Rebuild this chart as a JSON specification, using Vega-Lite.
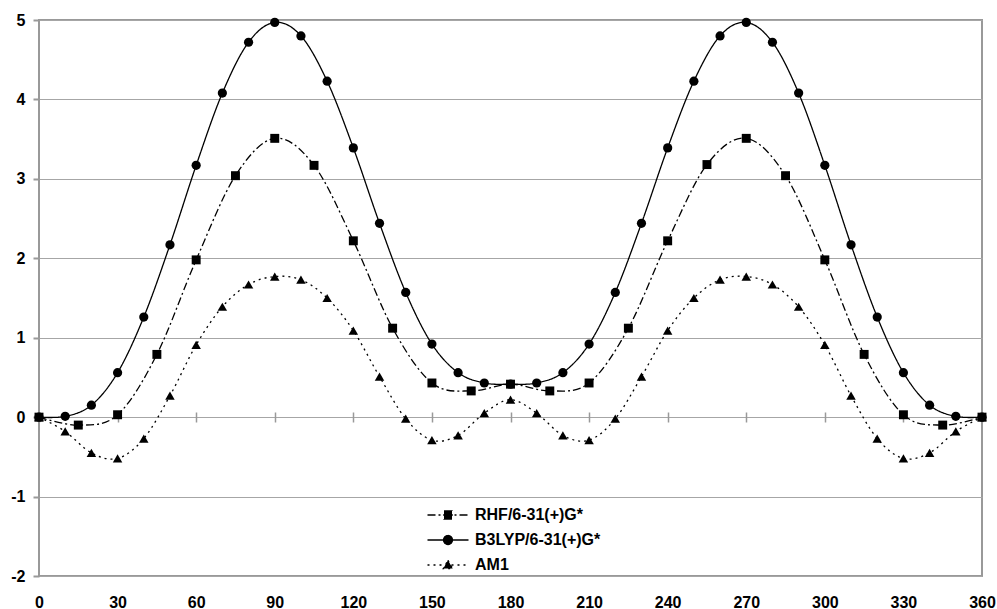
{
  "$schema": "https://vega.github.io/schema/vega-lite/v6.json",
  "width": 943,
  "height": 556,
  "autosize": "none",
  "padding": {"left": 39, "top": 20, "right": 15, "bottom": 33},
  "background": "white",
  "config": {
    "view": {"stroke": "#999999", "strokeWidth": 2},
    "font": "Liberation Sans",
    "axis": {"labelFont": "Liberation Sans", "labelFontWeight": "bold", "labelFontSize": 16, "labelColor": "black"},
    "legend": {
      "title": null, "orient": "none", "legendX": 387.5, "legendY": 485,
      "symbolSize": 100, "labelOffset": 5.5, "rowPadding": 5, "padding": 0, "clipHeight": 20,
      "labelFont": "Liberation Sans", "labelFontWeight": "bold", "labelFontSize": 16, "labelColor": "black",
      "symbolStrokeColor": "black", "symbolFillColor": "black", "symbolStrokeWidth": 1.3
    }
  },
  "data": {
    "values": [
      {"series": "RHF/6-31(+)G*", "angle": 0, "energy": 0},
      {"series": "RHF/6-31(+)G*", "angle": 15, "energy": -0.1},
      {"series": "RHF/6-31(+)G*", "angle": 30, "energy": 0.03},
      {"series": "RHF/6-31(+)G*", "angle": 45, "energy": 0.79},
      {"series": "RHF/6-31(+)G*", "angle": 60, "energy": 1.98},
      {"series": "RHF/6-31(+)G*", "angle": 75, "energy": 3.04},
      {"series": "RHF/6-31(+)G*", "angle": 90, "energy": 3.51},
      {"series": "RHF/6-31(+)G*", "angle": 105, "energy": 3.17},
      {"series": "RHF/6-31(+)G*", "angle": 120, "energy": 2.22},
      {"series": "RHF/6-31(+)G*", "angle": 135, "energy": 1.12},
      {"series": "RHF/6-31(+)G*", "angle": 150, "energy": 0.43},
      {"series": "RHF/6-31(+)G*", "angle": 165, "energy": 0.33},
      {"series": "RHF/6-31(+)G*", "angle": 180, "energy": 0.415},
      {"series": "RHF/6-31(+)G*", "angle": 195, "energy": 0.33},
      {"series": "RHF/6-31(+)G*", "angle": 210, "energy": 0.43},
      {"series": "RHF/6-31(+)G*", "angle": 225, "energy": 1.12},
      {"series": "RHF/6-31(+)G*", "angle": 240, "energy": 2.22},
      {"series": "RHF/6-31(+)G*", "angle": 255, "energy": 3.18},
      {"series": "RHF/6-31(+)G*", "angle": 270, "energy": 3.51},
      {"series": "RHF/6-31(+)G*", "angle": 285, "energy": 3.04},
      {"series": "RHF/6-31(+)G*", "angle": 300, "energy": 1.98},
      {"series": "RHF/6-31(+)G*", "angle": 315, "energy": 0.79},
      {"series": "RHF/6-31(+)G*", "angle": 330, "energy": 0.03},
      {"series": "RHF/6-31(+)G*", "angle": 345, "energy": -0.1},
      {"series": "RHF/6-31(+)G*", "angle": 360, "energy": 0},
      {"series": "B3LYP/6-31(+)G*", "angle": 0, "energy": 0},
      {"series": "B3LYP/6-31(+)G*", "angle": 10, "energy": 0.01},
      {"series": "B3LYP/6-31(+)G*", "angle": 20, "energy": 0.15},
      {"series": "B3LYP/6-31(+)G*", "angle": 30, "energy": 0.56},
      {"series": "B3LYP/6-31(+)G*", "angle": 40, "energy": 1.26},
      {"series": "B3LYP/6-31(+)G*", "angle": 50, "energy": 2.17},
      {"series": "B3LYP/6-31(+)G*", "angle": 60, "energy": 3.17},
      {"series": "B3LYP/6-31(+)G*", "angle": 70, "energy": 4.08},
      {"series": "B3LYP/6-31(+)G*", "angle": 80, "energy": 4.72},
      {"series": "B3LYP/6-31(+)G*", "angle": 90, "energy": 4.97},
      {"series": "B3LYP/6-31(+)G*", "angle": 100, "energy": 4.8},
      {"series": "B3LYP/6-31(+)G*", "angle": 110, "energy": 4.23},
      {"series": "B3LYP/6-31(+)G*", "angle": 120, "energy": 3.39},
      {"series": "B3LYP/6-31(+)G*", "angle": 130, "energy": 2.44},
      {"series": "B3LYP/6-31(+)G*", "angle": 140, "energy": 1.57},
      {"series": "B3LYP/6-31(+)G*", "angle": 150, "energy": 0.92},
      {"series": "B3LYP/6-31(+)G*", "angle": 160, "energy": 0.56},
      {"series": "B3LYP/6-31(+)G*", "angle": 170, "energy": 0.43},
      {"series": "B3LYP/6-31(+)G*", "angle": 180, "energy": 0.415},
      {"series": "B3LYP/6-31(+)G*", "angle": 190, "energy": 0.43},
      {"series": "B3LYP/6-31(+)G*", "angle": 200, "energy": 0.56},
      {"series": "B3LYP/6-31(+)G*", "angle": 210, "energy": 0.92},
      {"series": "B3LYP/6-31(+)G*", "angle": 220, "energy": 1.57},
      {"series": "B3LYP/6-31(+)G*", "angle": 230, "energy": 2.44},
      {"series": "B3LYP/6-31(+)G*", "angle": 240, "energy": 3.39},
      {"series": "B3LYP/6-31(+)G*", "angle": 250, "energy": 4.23},
      {"series": "B3LYP/6-31(+)G*", "angle": 260, "energy": 4.8},
      {"series": "B3LYP/6-31(+)G*", "angle": 270, "energy": 4.97},
      {"series": "B3LYP/6-31(+)G*", "angle": 280, "energy": 4.72},
      {"series": "B3LYP/6-31(+)G*", "angle": 290, "energy": 4.08},
      {"series": "B3LYP/6-31(+)G*", "angle": 300, "energy": 3.17},
      {"series": "B3LYP/6-31(+)G*", "angle": 310, "energy": 2.17},
      {"series": "B3LYP/6-31(+)G*", "angle": 320, "energy": 1.26},
      {"series": "B3LYP/6-31(+)G*", "angle": 330, "energy": 0.56},
      {"series": "B3LYP/6-31(+)G*", "angle": 340, "energy": 0.15},
      {"series": "B3LYP/6-31(+)G*", "angle": 350, "energy": 0.01},
      {"series": "B3LYP/6-31(+)G*", "angle": 360, "energy": 0},
      {"series": "AM1", "angle": 0, "energy": 0},
      {"series": "AM1", "angle": 10, "energy": -0.18},
      {"series": "AM1", "angle": 20, "energy": -0.45},
      {"series": "AM1", "angle": 30, "energy": -0.52},
      {"series": "AM1", "angle": 40, "energy": -0.27},
      {"series": "AM1", "angle": 50, "energy": 0.27},
      {"series": "AM1", "angle": 60, "energy": 0.91},
      {"series": "AM1", "angle": 70, "energy": 1.39},
      {"series": "AM1", "angle": 80, "energy": 1.67},
      {"series": "AM1", "angle": 90, "energy": 1.77},
      {"series": "AM1", "angle": 100, "energy": 1.73},
      {"series": "AM1", "angle": 110, "energy": 1.5},
      {"series": "AM1", "angle": 120, "energy": 1.09},
      {"series": "AM1", "angle": 130, "energy": 0.51},
      {"series": "AM1", "angle": 140, "energy": -0.02},
      {"series": "AM1", "angle": 150, "energy": -0.29},
      {"series": "AM1", "angle": 160, "energy": -0.23},
      {"series": "AM1", "angle": 170, "energy": 0.05},
      {"series": "AM1", "angle": 180, "energy": 0.22},
      {"series": "AM1", "angle": 190, "energy": 0.05},
      {"series": "AM1", "angle": 200, "energy": -0.23},
      {"series": "AM1", "angle": 210, "energy": -0.29},
      {"series": "AM1", "angle": 220, "energy": -0.02},
      {"series": "AM1", "angle": 230, "energy": 0.51},
      {"series": "AM1", "angle": 240, "energy": 1.09},
      {"series": "AM1", "angle": 250, "energy": 1.5},
      {"series": "AM1", "angle": 260, "energy": 1.73},
      {"series": "AM1", "angle": 270, "energy": 1.77},
      {"series": "AM1", "angle": 280, "energy": 1.67},
      {"series": "AM1", "angle": 290, "energy": 1.39},
      {"series": "AM1", "angle": 300, "energy": 0.91},
      {"series": "AM1", "angle": 310, "energy": 0.27},
      {"series": "AM1", "angle": 320, "energy": -0.27},
      {"series": "AM1", "angle": 330, "energy": -0.52},
      {"series": "AM1", "angle": 340, "energy": -0.45},
      {"series": "AM1", "angle": 350, "energy": -0.18},
      {"series": "AM1", "angle": 360, "energy": 0}
    ]
  },
  "encoding": {
    "y": {
      "field": "energy", "type": "quantitative",
      "scale": {"domain": [-2, 5], "nice": false, "zero": false},
      "axis": {
        "title": null, "values": [-2, -1, 0, 1, 2, 3, 4, 5],
        "grid": true, "gridColor": "#a6a6a6", "gridWidth": 1,
        "domain": false, "ticks": true, "tickSize": 6, "tickColor": "#999999", "tickWidth": 2,
        "labelPadding": 8, "labelFontSize": 16, "labelExpr": "'' + datum.value"
      }
    }
  },
  "layer": [
    {
      "mark": {"type": "line", "interpolate": "cardinal", "tension": 0, "color": "black", "strokeWidth": 1.3},
      "encoding": {
        "x": {
          "field": "angle", "type": "quantitative",
          "scale": {"domain": [0, 360], "nice": false, "zero": false},
          "axis": {
            "orient": "bottom",
            "title": null, "values": [0, 30, 60, 90, 120, 150, 180, 210, 240, 270, 300, 330, 360],
            "labels": false, "grid": false, "domain": false,
            "ticks": true, "tickSize": 10, "tickColor": "#999999", "tickWidth": 1.5,
            "offset": -164
          }
        },
        "detail": {"field": "series"},
        "strokeDash": {
          "field": "series", "type": "nominal",
          "scale": {"domain": ["RHF/6-31(+)G*", "B3LYP/6-31(+)G*", "AM1"], "range": [[8, 3, 2, 3], [1, 0], [2, 4]]},
          "legend": {
            "encode": {
              "symbols": {
                "update": {
                  "shape": {"signal": "datum.value === 'RHF/6-31(+)G*' ? 'M-1,0L1,0M-0.195,-0.195L0.195,-0.195L0.195,0.195L-0.195,0.195Z' : datum.value === 'B3LYP/6-31(+)G*' ? 'M-1,0L1,0M0.22,0L0.203,0.084L0.156,0.156L0.084,0.203L0,0.22L-0.084,0.203L-0.156,0.156L-0.203,0.084L-0.22,0L-0.203,-0.084L-0.156,-0.156L-0.084,-0.203L0,-0.22L0.084,-0.203L0.156,-0.156L0.203,-0.084Z' : 'M-1,0L1,0M0,-0.23L0.23,0.17L-0.23,0.17Z'"},
                  "size": {"value": 1681},
                  "fill": {"value": "black"},
                  "stroke": {"value": "black"}
                }
              }
            }
          }
        }
      }
    },
    {
      "transform": [{"filter": "datum.series === 'RHF/6-31(+)G*'"}],
      "mark": {"type": "point", "shape": "square", "filled": true, "color": "black", "size": 80, "opacity": 1},
      "encoding": {
        "x": {
          "field": "angle", "type": "quantitative",
          "scale": {"domain": [0, 360], "nice": false, "zero": false},
          "axis": {
            "orient": "bottom",
            "title": null, "values": [0, 30, 60, 90, 120, 150, 180, 210, 240, 270, 300, 330, 360],
            "labels": true, "grid": false, "domain": false, "ticks": false,
            "labelPadding": 18, "labelFontSize": 16, "labelFlush": false
          }
        }
      }
    },
    {
      "transform": [{"filter": "datum.series === 'B3LYP/6-31(+)G*'"}],
      "mark": {"type": "point", "shape": "circle", "filled": true, "color": "black", "size": 85, "opacity": 1},
      "encoding": {
        "x": {"field": "angle", "type": "quantitative", "scale": {"domain": [0, 360], "nice": false, "zero": false}, "axis": null}
      }
    },
    {
      "transform": [{"filter": "datum.series === 'AM1'"}],
      "mark": {"type": "point", "shape": "triangle-up", "filled": true, "color": "black", "size": 90, "opacity": 1},
      "encoding": {
        "x": {"field": "angle", "type": "quantitative", "scale": {"domain": [0, 360], "nice": false, "zero": false}, "axis": null}
      }
    }
  ],
  "resolve": {"axis": {"x": "independent"}}
}
